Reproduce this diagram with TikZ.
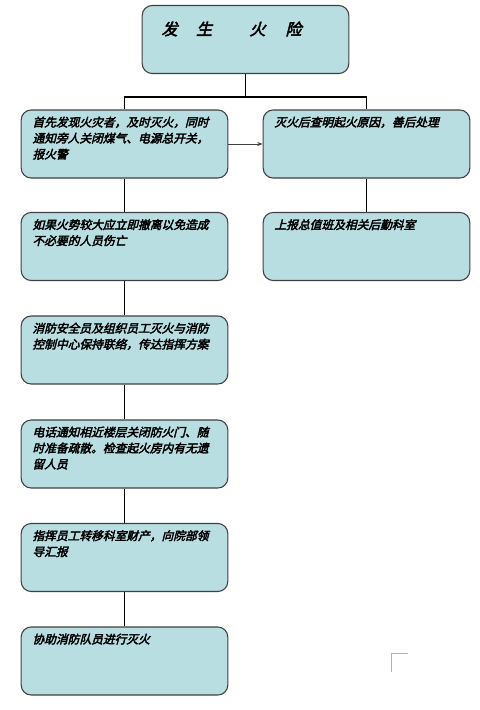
\documentclass[tikz,border=0pt]{standalone}
\usepackage{fontspec}
\newfontfamily\cjk[FakeSlant=0.25,FakeBold=3]{Noto Sans CJK SC}
\usetikzlibrary{arrows.meta,positioning}
\definecolor{boxblue}{RGB}{185,222,226}
\definecolor{edgegray}{RGB}{64,64,64}
\newcommand{\steptext}[1]{\parbox[c][41pt][t]{138pt}{\raggedright\cjk\fontsize{8.8pt}{12pt}\selectfont #1}}

\begin{document}
\begin{tikzpicture}[x=0.75pt, y=-0.75pt,
    stepbox/.style={rectangle, rounded corners=7.5pt, draw=edgegray, thick, fill=boxblue, minimum width=155pt, minimum height=51pt, inner sep=0pt},
    link/.style={line width=1.4pt, black},
    arr/.style={-{Stealth[length=4pt]}, edgegray, semithick}
]
    \useasboundingbox (0,0) rectangle (479,710);

    \node[stepbox] (fire) at (245.5,39.5) {\parbox[c][41pt][t]{138pt}{\vspace{7pt}\cjk\fontsize{12pt}{14pt}\selectfont\hspace*{6pt}发\hspace{14pt}生\hspace{28pt}火\hspace{15pt}险}};

    \node[stepbox] (s1) at (124.5,144) {\steptext{首先发现火灾者，及时灭火，同时\\通知旁人关闭煤气、电源总开关，\\报火警}};
    \node[stepbox] (s2) at (124.5,246.5) {\steptext{如果火势较大应立即撤离以免造成\\不必要的人员伤亡}};
    \node[stepbox] (s3) at (124.5,350) {\steptext{消防安全员及组织员工灭火与消防\\控制中心保持联络，传达指挥方案}};
    \node[stepbox] (s4) at (124.5,454) {\steptext{电话通知相近楼层关闭防火门、随\\时准备疏散。检查起火房内有无遗\\留人员}};
    \node[stepbox] (s5) at (124.5,557.5) {\steptext{指挥员工转移科室财产，向院部领\\导汇报}};
    \node[stepbox] (s6) at (124.5,661) {\steptext{协助消防队员进行灭火}};

    \node[stepbox] (r1) at (366.5,144) {\steptext{灭火后查明起火原因，善后处理}};
    \node[stepbox] (r2) at (366.5,246.5) {\steptext{上报总值班及相关后勤科室}};

    % bus under the top box
    \coordinate (busL) at (124.5,97);
    \coordinate (busR) at (366.5,97);
    \draw[link] (fire.south) -- (fire.south |- busL);
    \draw[link] (s1.north) -- (busL) -- (busR) -- (r1.north);

    \draw[link] (s1) -- (s2);
    \draw[link] (s2) -- (s3);
    \draw[link] (s3) -- (s4);
    \draw[link] (s4) -- (s5);
    \draw[link] (s5) -- (s6);
    \draw[link] (r1) -- (r2);

    \draw[arr] (s1) -- (r1);

    % corner mark
    \draw[gray!60] (408,653) -- (391,653) -- (391,672);
\end{tikzpicture}
\end{document}
